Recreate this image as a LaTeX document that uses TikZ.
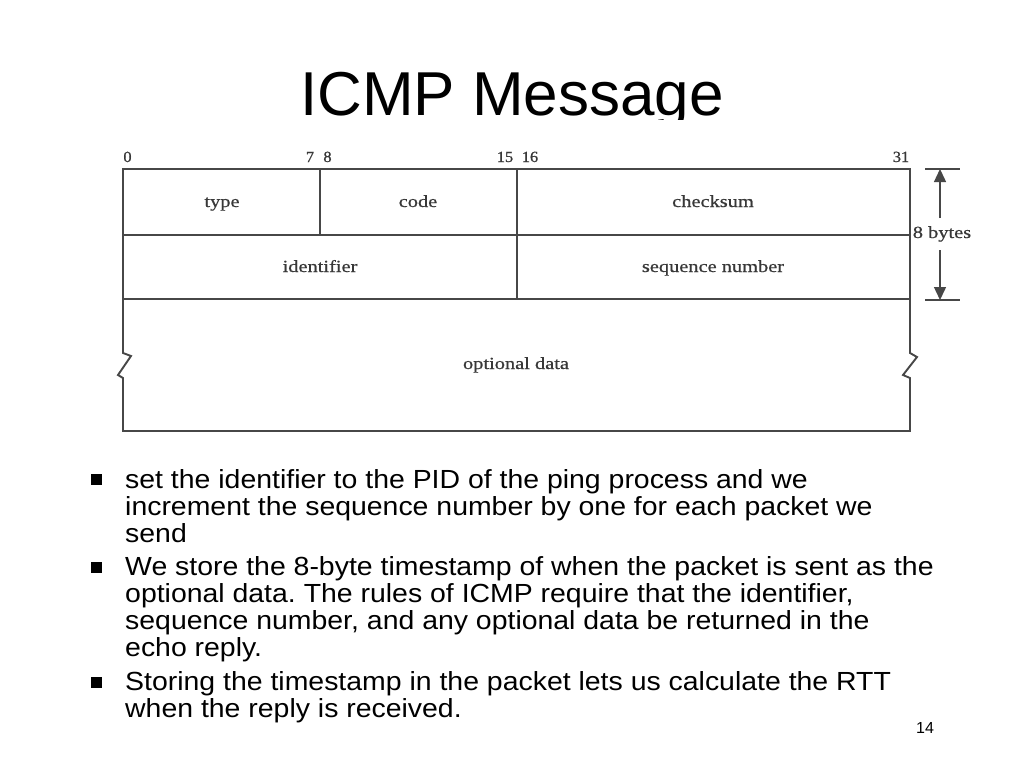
\documentclass[tikz,border=0pt]{standalone}
\usepackage{fontspec}
\setmainfont{Liberation Sans}
\newfontfamily\bodyfont[FakeStretch=1.085]{Liberation Sans}
\newfontfamily\serifdiag[FakeStretch=1.2,FakeBold=0.6]{Liberation Serif}
\newfontfamily\serifbits[FakeStretch=1.05,FakeBold=0.8]{Liberation Serif}
\usetikzlibrary{arrows.meta}
\frenchspacing
\begin{document}
\begin{tikzpicture}[x=1pt,y=-1pt,
  frame/.style={draw=black!72, line width=1.9pt, line join=miter},
  dim/.style={draw=black!72, line width=1.4pt},
  dimarrow/.style={draw=black!72, line width=1.4pt, -{Triangle[length=13pt,width=12pt]}},
  fieldlabel/.style={font=\serifdiag\fontsize{17}{19}\selectfont, text=black!78, inner sep=0pt, anchor=base},
  bitlabel/.style={font=\serifbits\fontsize{15.5}{17}\selectfont, text=black!78, inner sep=0pt, anchor=base},
  titletext/.style={font=\fontsize{62}{62}\selectfont, inner sep=0pt, anchor=base},
  bodyline/.style={font=\bodyfont\fontsize{26.2}{27}\selectfont, inner sep=0pt, anchor=base west},
  bulletmark/.style={fill=black, minimum size=11pt, inner sep=0pt},
  pagenum/.style={font=\fontsize{16}{18}\selectfont, inner sep=0pt, anchor=base}
]
\useasboundingbox[fill=white] (0,0) rectangle (1024,768);

% title (bottom clipped by the picture below it)
\begin{scope}
  \clip (0,0) rectangle (1024,119);
  \node[titletext] (title) at (512,115) {ICMP Message};
\end{scope}

% named corners
\coordinate (tl) at (123,169);
\coordinate (tr) at (910,169);
\coordinate (r1l) at (123,235);
\coordinate (r1r) at (910,235);
\coordinate (r2l) at (123,299);
\coordinate (r2r) at (910,299);
\coordinate (d1t) at (320,169);
\coordinate (d1b) at (320,235);
\coordinate (d2t) at (517,169);
\coordinate (d2b) at (517,299);

% outer frame with break marks
\draw[frame] (123,353) -- (tl) -- (tr) -- (910,353) -- (917,357) -- (903,375) -- (910,378)
  -- (910,431) -- (123,431) -- (123,378) -- (118,375) -- (131,356) -- cycle;
\draw[frame] (r1l) -- (r1r);
\draw[frame] (r2l) -- (r2r);
\draw[frame] (d1t) -- (d1b);
\draw[frame] (d2t) -- (d2b);

% bit numbers
\node[bitlabel] (b0) at (127.5,162) {0};
\node[bitlabel] (b7) at (310,162) {7};
\node[bitlabel] (b8) at (327.5,162) {8};
\node[bitlabel] (b15) at (505,162) {15};
\node[bitlabel] (b16) at (530,162) {16};
\node[bitlabel] (b31) at (901,162) {31};

% field labels
\node[fieldlabel] (type) at (222,207) {type};
\node[fieldlabel] (code) at (418,207) {code};
\node[fieldlabel] (checksum) at (713,207) {checksum};
\node[fieldlabel] (identifier) at (320,272) {identifier};
\node[fieldlabel] (seqnum) at (713,272) {sequence number};
\node[fieldlabel] (optdata) at (516,369) {optional data};

% 8 bytes dimension
\coordinate (dtopl) at (925,169);
\coordinate (dtopr) at (960,169);
\coordinate (dbotl) at (925,300);
\coordinate (dbotr) at (960,300);
\coordinate (dtop) at (940,169);
\coordinate (dbot) at (940,300);
\coordinate (shafttop) at (940,218);
\coordinate (shaftbot) at (940,250);
\draw[dim] (dtopl) -- (dtopr);
\draw[dim] (dbotl) -- (dbotr);
\node[fieldlabel] (bytes) at (942,238) {8 bytes};
\draw[dimarrow] (shafttop) -- (dtop);
\draw[dimarrow] (shaftbot) -- (dbot);

% bullets
\node[bulletmark] (m1) at (96,479) {};
\node[bodyline] (l1) at (125,488) {set the identifier to the PID of the ping process and we};
\node[bodyline] (l2) at (125,515) {increment the sequence number by one for each packet we};
\node[bodyline] (l3) at (125,542) {send};
\node[bulletmark] (m2) at (96,567) {};
\node[bodyline] (l4) at (125,575) {We store the 8-byte timestamp of when the packet is sent as the};
\node[bodyline] (l5) at (125,602) {optional data. The rules of ICMP require that the identifier,};
\node[bodyline] (l6) at (125,629) {sequence number, and any optional data be returned in the};
\node[bodyline] (l7) at (125,656) {echo reply.};
\node[bulletmark] (m3) at (96,682) {};
\node[bodyline] (l8) at (125,690) {Storing the timestamp in the packet lets us calculate the RTT};
\node[bodyline] (l9) at (125,717) {when the reply is received.};

\node[pagenum] (page) at (925,733) {14};
\end{tikzpicture}
\end{document}
